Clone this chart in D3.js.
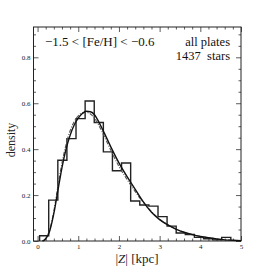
<!DOCTYPE html>
<html>
<head>
<meta charset="utf-8">
<script src="https://cdn.jsdelivr.net/npm/d3@7"></script>
<style>
  html, body { margin: 0; padding: 0; background: #fff; }
  svg { display: block; }
</style>
</head>
<body>
<script>
const width = 268
const height = 268
const serif = "'Liberation Serif', 'Times New Roman', 'DejaVu Serif', serif"

// histogram bin edges (kpc) and densities
const binEdges = [0.05, 0.274, 0.498, 0.721, 0.945, 1.169, 1.393, 1.617, 1.84, 2.064, 2.288,
  2.512, 2.736, 2.96, 3.183, 3.407, 3.631, 3.855, 4.079, 4.303, 4.526, 4.75]
const binDensity = [0.023, 0.178, 0.352, 0.446, 0.533, 0.61, 0.516, 0.388, 0.306, 0.34,
  0.174, 0.157, 0.152, 0.106, 0.065, 0.035, 0.028, 0.016, 0.01, 0.005, 0.016]

// solid model curve
const solidZ = [0.12, 0.2, 0.3, 0.4, 0.5, 0.6, 0.7, 0.8, 0.9, 1.0, 1.1, 1.2, 1.3, 1.4, 1.5, 1.6,
  1.8, 2.0, 2.2, 2.4, 2.6, 2.8, 3.0, 3.2, 3.4, 3.6, 3.8, 4.0, 4.2, 4.4, 4.6, 4.8, 5.0]
const solidDensity = [0, 0.01, 0.045, 0.12, 0.22, 0.32, 0.4, 0.46, 0.505, 0.535, 0.555, 0.565,
  0.563, 0.55, 0.52, 0.485, 0.41, 0.34, 0.28, 0.225, 0.17, 0.125, 0.093, 0.07, 0.052, 0.038,
  0.028, 0.02, 0.014, 0.009, 0.005, 0.003, 0.001]

// dashed model curve
const dashZ = [0.15, 0.3, 0.4, 0.5, 0.6, 0.7, 0.8, 0.9, 1.0, 1.1, 1.2, 1.3, 1.4, 1.5, 1.6,
  1.8, 2.0, 2.2, 2.4, 2.6, 2.8, 3.0, 3.2, 3.4, 3.6, 3.8, 4.0, 4.2, 4.4, 4.6, 4.8, 5.0]
const dashDensity = [0, 0.05, 0.13, 0.24, 0.34, 0.42, 0.48, 0.52, 0.545, 0.558, 0.56, 0.553,
  0.535, 0.505, 0.47, 0.395, 0.325, 0.268, 0.215, 0.168, 0.128, 0.095, 0.071, 0.052, 0.038,
  0.028, 0.02, 0.014, 0.009, 0.005, 0.003, 0.001]

const xTicks = [0, 1, 2, 3, 4, 5]
const yTicks = [0.0, 0.2, 0.4, 0.6, 0.8]

const x = d3.scaleLinear().domain([-0.1, 5]).range([33.5, 241])
const y = d3.scaleLinear().domain([0, 0.932]).range([241, 27])

const svg = d3.select('body').append('svg')
  .attr('width', width)
  .attr('height', height)

// minor tick positions
const xMinor = d3.range(0, 5.001, 0.2).filter(function (d) { return Math.abs(d - Math.round(d)) > 1e-6 })
const yMinor = d3.range(0, 0.93, 0.05).filter(function (d) { return Math.abs(d * 5 - Math.round(d * 5)) > 1e-6 })

const drawAxis = function (axis, transform) {
  const g = svg.append('g').attr('transform', transform).call(axis)
  g.attr('font-family', serif)
  g.select('.domain').remove()
  g.selectAll('line').attr('stroke', '#333').attr('stroke-width', 0.8)
  g.selectAll('text').attr('font-size', '7px').attr('font-family', serif).attr('fill', '#222')
  return g
}

const fmt = d3.format('.1f')
drawAxis(d3.axisBottom(x).tickValues(xTicks).tickSize(-5).tickPadding(3).tickFormat(d3.format('d')), 'translate(0,241)')
drawAxis(d3.axisBottom(x).tickValues(xMinor).tickSize(-2.5).tickFormat(''), 'translate(0,241)')
drawAxis(d3.axisTop(x).tickValues(xTicks).tickSize(-5).tickFormat(''), 'translate(0,27)')
drawAxis(d3.axisTop(x).tickValues(xMinor).tickSize(-2.5).tickFormat(''), 'translate(0,27)')
drawAxis(d3.axisLeft(y).tickValues(yTicks).tickSize(-5).tickPadding(3).tickFormat(fmt), 'translate(33.5,0)')
drawAxis(d3.axisLeft(y).tickValues(yMinor).tickSize(-2.5).tickFormat(''), 'translate(33.5,0)')
drawAxis(d3.axisRight(y).tickValues(yTicks).tickSize(-5).tickFormat(''), 'translate(241,0)')
drawAxis(d3.axisRight(y).tickValues(yMinor).tickSize(-2.5).tickFormat(''), 'translate(241,0)')

// frame
svg.append('rect')
  .attr('x', x.range()[0]).attr('y', y.range()[1])
  .attr('width', x.range()[1] - x.range()[0])
  .attr('height', y.range()[0] - y.range()[1])
  .attr('fill', 'none').attr('stroke', '#222').attr('stroke-width', 1)

// histogram outline as steps
const histPts = [[binEdges[0], 0]]
binDensity.forEach(function (d, i) {
  histPts.push([binEdges[i], d])
  histPts.push([binEdges[i + 1], d])
})
histPts.push([binEdges[binEdges.length - 1], 0])

svg.append('path')
  .datum(histPts)
  .attr('d', d3.line().x(function (d) { return x(d[0]) }).y(function (d) { return y(d[1]) }))
  .attr('fill', 'none').attr('stroke', '#222').attr('stroke-width', 1.4)

const curve = d3.line()
  .x(function (d) { return x(d[0]) })
  .y(function (d) { return y(d[1]) })
  .curve(d3.curveMonotoneX)

svg.append('path')
  .datum(dashZ.map(function (z, i) { return [z, dashDensity[i]] }))
  .attr('d', curve)
  .attr('fill', 'none').attr('stroke', '#555').attr('stroke-width', 1.1)
  .attr('stroke-dasharray', '4,1.5,1,1.5')

svg.append('path')
  .datum(solidZ.map(function (z, i) { return [z, solidDensity[i]] }))
  .attr('d', curve)
  .attr('fill', 'none').attr('stroke', '#111').attr('stroke-width', 1.4)

// axis titles
const xTitle = svg.append('text')
  .attr('x', 137).attr('y', 263)
  .attr('text-anchor', 'middle').attr('font-size', '13px')
  .attr('font-family', serif).attr('fill', '#222')
xTitle.append('tspan').text('|')
xTitle.append('tspan').attr('font-style', 'italic').text('Z')
xTitle.append('tspan').text('| [kpc]')

svg.append('text')
  .attr('transform', 'translate(15,140) rotate(-90)')
  .attr('text-anchor', 'middle').attr('font-size', '12px')
  .attr('font-family', serif).attr('fill', '#222')
  .text('density')

// annotations
svg.append('text')
  .attr('x', 45).attr('y', 46)
  .attr('font-size', '13px')
  .attr('font-family', serif).attr('fill', '#111')
  .text('\u22121.5 < [Fe/H] < \u22120.6')

svg.append('text')
  .attr('x', 230).attr('y', 46)
  .attr('text-anchor', 'end').attr('font-size', '12.5px')
  .attr('font-family', serif).attr('fill', '#111')
  .text('all plates')

svg.append('text')
  .attr('x', 230).attr('y', 59.5)
  .attr('text-anchor', 'end').attr('font-size', '12.5px')
  .attr('font-family', serif).attr('fill', '#111')
  .attr('xml:space', 'preserve')
  .style('white-space', 'pre')
  .text('1437  stars')
</script>
</body>
</html>
